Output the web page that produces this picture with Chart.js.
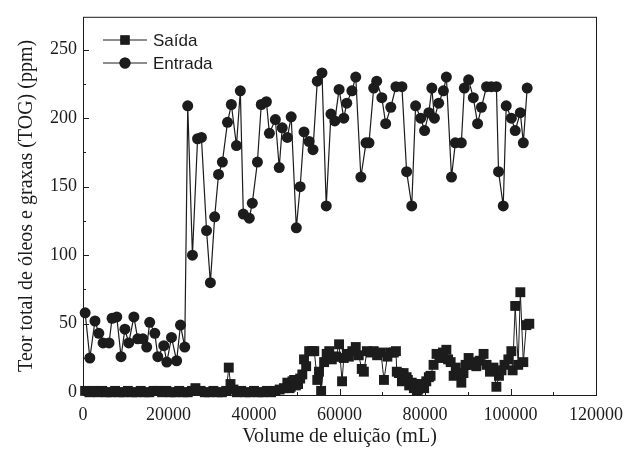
<!DOCTYPE html>
<html>
<head>
<meta charset="utf-8">
<script src="https://cdn.jsdelivr.net/npm/chart.js@4"></script>
<style>
  html, body { margin: 0; padding: 0; background: #fff; }
  #wrap { width: 632px; height: 452px; }
</style>
</head>
<body>
<div id="wrap"><canvas id="c"></canvas></div>
<script>
// Entrada: volume (mL) and TOG (ppm)
const volEntrada = [500, 1600, 2800, 3700, 4700, 6100, 6800, 7900, 8900, 9800, 10700, 11900,
  12800, 14000, 14900, 15600, 16800, 17500, 18900, 19600, 20700, 21900, 22800, 23800,
  24500, 25600, 26800, 27700, 28900, 29800, 30800, 31700, 32600, 33800, 34700, 35900,
  36800, 37500, 38900, 39600, 40800, 41700, 42900, 43600, 45000, 45900, 46600, 47800,
  48700, 49900, 50800, 51700, 52900, 53800, 54800, 55900, 56900, 58000, 58900, 59900,
  61000, 61700, 62900, 63800, 65000, 66200, 66900, 68000, 68700, 69900, 70800, 72000,
  73200, 74600, 75700, 76900, 77800, 79000, 79900, 80900, 81600, 82200, 83200, 84300,
  85000, 86200, 87100, 88500, 89200, 90200, 91300, 92300, 93200, 94400, 95500, 96700,
  97200, 98300, 99000, 100200, 101100, 102300, 103000, 103900];
const togEntrada = [58, 25, 52, 43, 36, 36, 54, 55, 26, 46, 36, 55,
  39, 39, 33, 51, 43, 26, 34, 22, 40, 23, 49, 33,
  209, 100, 185, 186, 118, 80, 128, 159, 168, 197, 210, 180,
  220, 130, 127, 138, 168, 210, 212, 189, 199, 164, 193, 186,
  201, 120, 150, 190, 183, 177, 227, 233, 136, 203, 198, 221,
  200, 211, 220, 230, 157, 182, 182, 222, 227, 215, 196, 208,
  223, 223, 161, 136, 209, 200, 191, 204, 222, 200, 211, 220,
  230, 157, 182, 182, 222, 228, 215, 196, 208, 223, 223, 223,
  161, 136, 209, 200, 191, 204, 182, 222];

// Saída: volume (mL) and TOG (ppm)
const volSaida = [500, 1500, 2500, 3500, 4500, 5500, 6500, 7500, 8500, 9500, 10500, 11500,
  12500, 13500, 14500, 15500, 16500, 17500, 18500, 19500, 20500, 21500, 22500, 23500,
  24500, 25500, 26300, 27500, 28500, 29500, 30500, 31500, 32500, 33500, 34100, 34500,
  35200, 36000, 37000, 38000, 39000, 40000, 41000, 42000, 43000, 44000, 45000, 46000,
  47000, 47800, 48300, 48600, 49000, 49400, 49800, 50300, 50800, 51300, 51700, 52200,
  52900, 53600, 54100, 54800, 55200, 55700, 56400, 57000, 57600, 58200, 58700, 59200,
  59900, 60600, 61000, 61700, 62200, 63000, 63800, 64500, 65200, 65700, 66400, 67300,
  68000, 68800, 69700, 70400, 71200, 72000, 72700, 73200, 73400, 73900, 74600, 75000,
  75700, 76000, 76300, 76900, 77400, 77800, 78100, 78400, 79000, 79200, 79800, 80300,
  80900, 81300, 82000, 82700, 83500, 84200, 85000, 85400, 86000, 86700, 87200, 87800,
  88500, 89000, 89500, 90200, 91000, 91800, 92000, 92800, 93700, 94400, 95200, 96000,
  96700, 97300, 97900, 98600, 99500, 100200, 100500, 101100, 101800, 102300, 103000, 103700,
  104400];
const togSaida = [1, 0, 1, 0, 1, 0, 0, 1, 0, 0, 1, 0,
  0, 1, 0, 0, 1, 1, 0, 1, 0, 0, 1, 0,
  0, 1, 3, 1, 0, 0, 1, 0, 0, 1, 18, 6,
  2, 0, 1, 0, 0, 1, 0, 0, 1, 0, 1, 2,
  3, 7, 3, 4, 8, 9, 5, 6, 10, 13, 24, 19,
  30, 30, 30, 9, 15, 1, 22, 28, 30, 24, 26, 26,
  35, 8, 25, 28, 26, 30, 33, 27, 17, 15, 30, 29,
  30, 27, 29, 9, 26, 29, 29, 30, 15, 14, 8, 14,
  11, 9, 5, 7, 3, 6, 1, 2, 4, 6, 3, 8,
  11, 12, 20, 28, 25, 29, 31, 24, 22, 12, 18, 13,
  7, 14, 20, 25, 20, 22, 19, 23, 28, 20, 15, 18,
  4, 12, 16, 20, 24, 30, 16, 63, 20, 73, 22, 49,
  50];

const xTicks = [0, 20000, 40000, 60000, 80000, 100000, 120000];
const xMinor = [10000, 30000, 50000, 70000, 90000, 110000];
const yTicks = [0, 50, 100, 150, 200, 250];
const yMinor = [25, 75, 125, 175, 225];

const seriesNames = ["Saída", "Entrada"];
const ink = "#1c1c1c";

function toPoints(xs, ys) {
  return xs.map((x, i) => ({ x: x, y: ys[i] }));
}

// frame, inward ticks and the legend inside the plot
const framePlugin = {
  id: "frame",
  afterDraw(chart) {
    const ctx = chart.ctx;
    const a = chart.chartArea;
    const xs = chart.scales.x;
    const ys = chart.scales.y;
    ctx.save();
    ctx.strokeStyle = ink;
    ctx.lineWidth = 1;
    ctx.strokeRect(a.left + 0.5, a.top + 0.5, a.right - a.left, a.bottom - a.top);

    ctx.beginPath();
    xTicks.forEach((v) => {
      const p = Math.round(xs.getPixelForValue(v)) + 0.5;
      ctx.moveTo(p, a.bottom); ctx.lineTo(p, a.bottom - 6);
    });
    xMinor.forEach((v) => {
      const p = Math.round(xs.getPixelForValue(v)) + 0.5;
      ctx.moveTo(p, a.bottom); ctx.lineTo(p, a.bottom - 3);
    });
    yTicks.forEach((v) => {
      const p = Math.round(ys.getPixelForValue(v)) + 0.5;
      ctx.moveTo(a.left, p); ctx.lineTo(a.left + 6, p);
    });
    yMinor.forEach((v) => {
      const p = Math.round(ys.getPixelForValue(v)) + 0.5;
      ctx.moveTo(a.left, p); ctx.lineTo(a.left + 3, p);
    });
    ctx.stroke();

    // legend
    const styles = ["rect", "circle"];
    const radii = [6.5, 5.5];
    ctx.font = "17px 'Liberation Sans', Arial, sans-serif";
    ctx.textBaseline = "middle";
    ctx.fillStyle = ink;
    seriesNames.forEach((name, i) => {
      const y = 40 + i * 23;
      ctx.beginPath();
      ctx.moveTo(103, y); ctx.lineTo(147, y);
      ctx.stroke();
      Chart.helpers.drawPoint(ctx, { pointStyle: styles[i], radius: radii[i], borderWidth: 0 }, 125, y);
      ctx.fill();
      ctx.fillText(name, 153, y + 1);
    });
    ctx.restore();
  },
};

new Chart(document.getElementById("c"), {
  type: "line",
  data: {
    datasets: [
      {
        label: seriesNames[0],
        data: toPoints(volSaida, togSaida),
        borderColor: ink,
        backgroundColor: ink,
        borderWidth: 1,
        pointStyle: "rect",
        pointRadius: 7,
        pointBorderWidth: 0,
        clip: false,
      },
      {
        label: seriesNames[1],
        data: toPoints(volEntrada, togEntrada),
        borderColor: ink,
        backgroundColor: ink,
        borderWidth: 1.2,
        pointStyle: "circle",
        pointRadius: 5.5,
        pointBorderWidth: 0,
        clip: false,
      },
    ],
  },
  options: {
    responsive: true,
    maintainAspectRatio: false,
    animation: false,
    layout: { padding: { top: 15, right: 34, left: 0, bottom: 0 } },
    plugins: {
      legend: { display: false },
      tooltip: { enabled: false },
    },
    scales: {
      x: {
        type: "linear",
        min: 0,
        max: 120000,
        afterBuildTicks: (s) => { s.ticks = xTicks.map((v) => ({ value: v })); },
        afterFit: (s) => { s.height = 57; },
        grid: { display: false, drawTicks: false },
        border: { display: false },
        ticks: {
          color: ink,
          padding: 9,
          maxRotation: 0,
          font: { family: "'Liberation Serif', 'Times New Roman', serif", size: 18 },
          callback: (v) => String(v),
        },
        title: {
          display: true,
          text: "Volume de eluição (mL)",
          color: ink,
          padding: { top: 0, bottom: 3 },
          font: { family: "'Liberation Serif', 'Times New Roman', serif", size: 20 },
        },
      },
      y: {
        type: "linear",
        min: -2,
        max: 274,
        afterBuildTicks: (s) => { s.ticks = yTicks.map((v) => ({ value: v })); },
        afterFit: (s) => { s.width = 83; },
        grid: { display: false, drawTicks: false },
        border: { display: false },
        ticks: {
          color: ink,
          padding: 6,
          font: { family: "'Liberation Serif', 'Times New Roman', serif", size: 18 },
          callback: (v) => String(v),
        },
        title: {
          display: true,
          text: "Teor total de óleos e graxas (TOG) (ppm)",
          color: ink,
          padding: { top: 15, bottom: 0 },
          font: { family: "'Liberation Serif', 'Times New Roman', serif", size: 20 },
        },
      },
    },
  },
  plugins: [framePlugin],
});
</script>
</body>
</html>
